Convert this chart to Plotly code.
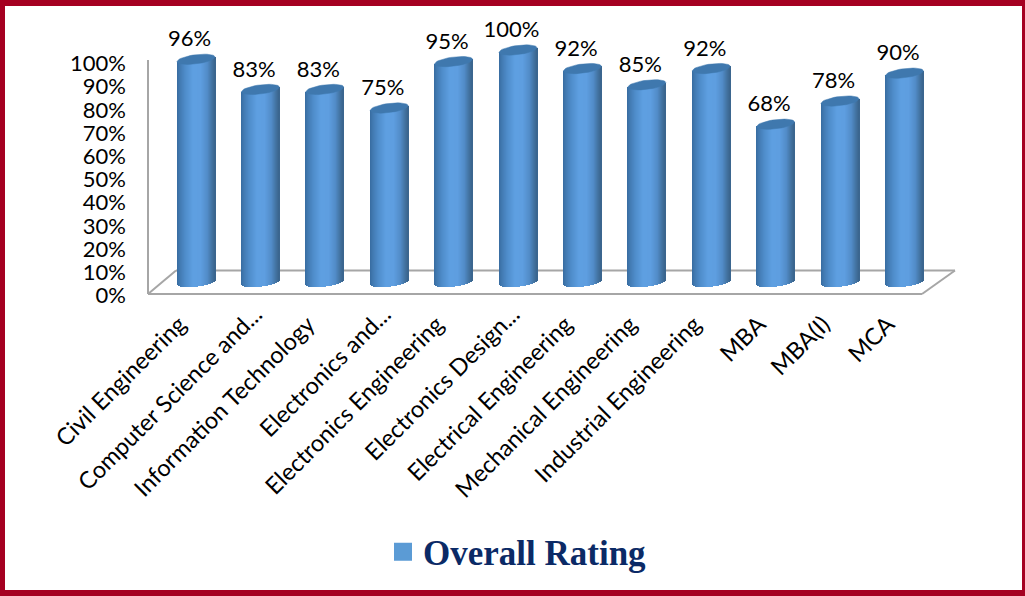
import numpy as np
import plotly.graph_objects as go

categories = ["Civil Engineering", "Computer Science and...", "Information Technology",
              "Electronics and...", "Electronics Engineering", "Electronics Design...",
              "Electrical Engineering", "Mechanical Engineering", "Industrial Engineering",
              "MBA", "MBA(I)", "MCA"]
rating = [96, 83, 83, 75, 95, 100, 92, 85, 92, 68, 78, 90]
value_ticks = list(range(0, 101, 10))
value_tick_labels = [f"{v}%" for v in value_ticks]

W, H = 1025, 596
X0, DX = 196.0, 64.4        # pixel of first category, pixels per category
PX_PER_PCT = 2.32
AXIS_ZERO, BAR_ZERO = 295.5, 282.0
HALF_W, RY, TILT = 19.0, 4.6, 0.12
FONT = "Lato"
FS = 22
FS_X = 23.5
LABEL_SHIFT = 0.26
TRUNC_SHIFT = 0.08

idx = list(range(len(categories)))
vals = np.array(rating, dtype=float)
full_idx = [i for i in idx if not categories[i].endswith("...")]
trunc_idx = [i for i in idx if categories[i].endswith("...")]


def hexrgb(t):
    stops = [-1, -0.85, -0.55, -0.15, 0.25, 0.6, 0.85, 1]
    r = [56, 66, 80, 95, 94, 82, 66, 58]
    g = [108, 122, 142, 160, 158, 140, 114, 100]
    b = [160, 178, 204, 226, 224, 200, 160, 140]
    return "rgb(%d,%d,%d)" % (np.interp(t, stops, r), np.interp(t, stops, g), np.interp(t, stops, b))


fig = go.Figure()

# invisible traces so the left value axis and the second label axis are drawn
fig.add_trace(go.Scatter(x=idx, y=rating, mode="markers", marker=dict(opacity=0),
                         xaxis="x", yaxis="y", showlegend=False, hoverinfo="skip"))
fig.add_trace(go.Scatter(x=idx, y=rating, mode="markers", marker=dict(opacity=0),
                         xaxis="x2", yaxis="y", showlegend=False, hoverinfo="skip"))

# cylinder bodies built from narrow vertical strips of the same values
N = 38
sw = 2 * HALF_W / N
for k in range(N):
    left = -HALF_W + k * sw
    mid = left + sw / 2
    t = mid / HALF_W
    front = RY * np.sqrt(max(0, 1 - t * t))
    base = -(front - TILT * mid) / PX_PER_PCT
    top = vals + (TILT * mid) / PX_PER_PCT
    fig.add_trace(go.Bar(
        x=idx, y=top - base, base=[base] * len(idx),
        offset=left / DX, width=(sw + 0.6) / DX,
        marker=dict(color=hexrgb(t), line=dict(width=0)),
        xaxis="x", yaxis="y2", showlegend=False, hoverinfo="skip"))

# cylinder caps, tilted ellipses sitting on each value
theta = np.linspace(0, 2 * np.pi, 41)
cap_x, cap_y = [], []
for i, v in zip(idx, rating):
    ex = HALF_W * np.cos(theta)
    ey = RY * np.sin(theta) + TILT * ex
    cap_x += list(i + ex / DX) + [None]
    cap_y += list(v + ey / PX_PER_PCT) + [None]
fig.add_trace(go.Scatter(
    x=cap_x, y=cap_y, mode="lines", fill="toself", fillcolor="#3f78ae",
    line=dict(width=0.5, color="#3f78ae"), xaxis="x", yaxis="y2",
    showlegend=False, hoverinfo="skip"))

# data labels
fig.add_trace(go.Scatter(
    x=[i - 0.1 for i in idx], y=[v + 7.9 for v in rating],
    text=[f"{v}%" for v in rating], mode="text", textposition="middle center",
    textfont=dict(family=FONT, size=FS, color="#000000"),
    xaxis="x", yaxis="y2", showlegend=False, hoverinfo="skip"))

# legend entry
fig.add_trace(go.Scatter(
    x=[None], y=[None], mode="markers", name="Overall Rating",
    marker=dict(symbol="square", size=16, color="#5B9BD5", line=dict(width=2, color="#5B9BD5")),
    xaxis="x", yaxis="y2", showlegend=True))


def px(x):
    return x / W


def py(y):
    return 1 - y / H


grey = dict(color="#A6A6A6", width=2)
shapes = [
    dict(type="line", xref="paper", yref="paper", x0=px(148), x1=px(148), y0=py(60), y1=py(294), line=grey, layer="below"),
    dict(type="line", xref="paper", yref="paper", x0=px(148), x1=px(922), y0=py(294), y1=py(294), line=grey, layer="below"),
    dict(type="line", xref="paper", yref="paper", x0=px(922), x1=px(955), y0=py(294), y1=py(270.5), line=grey, layer="below"),
    dict(type="line", xref="paper", yref="paper", x0=px(176), x1=px(955), y0=py(270.5), y1=py(270.5), line=grey, layer="below"),
    dict(type="line", xref="paper", yref="paper", x0=px(148), x1=px(176), y0=py(294), y1=py(270.5), line=grey, layer="below"),
]
crimson = "#A50021"
for x0, x1, y0, y1 in [(0, W, 0, 6), (0, W, 590, H), (0, 5, 0, H), (1022, W, 0, H)]:
    shapes.append(dict(type="rect", xref="paper", yref="paper", x0=px(x0), x1=px(x1),
                       y0=py(y1), y1=py(y0), fillcolor=crimson, line=dict(width=0), layer="above"))

x_range = [(0 - X0) / DX, (W - X0) / DX]
fig.update_layout(
    width=W, height=H, margin=dict(l=0, r=0, t=0, b=0),
    paper_bgcolor="white", plot_bgcolor="rgba(0,0,0,0)",
    barmode="overlay", bargap=0, shapes=shapes, hovermode=False,
    xaxis=dict(range=x_range, domain=[0, 1],
               tickmode="array", tickvals=[i - LABEL_SHIFT for i in full_idx],
               ticktext=[categories[i] for i in full_idx], tickangle=-45,
               showgrid=False, zeroline=False, showline=False, ticks="",
               tickfont=dict(family=FONT, size=FS_X, color="#000000"),
               anchor="free", position=py(305), automargin=False),
    xaxis2=dict(range=x_range, domain=[0, 1], overlaying="x",
                tickmode="array", tickvals=[i - TRUNC_SHIFT for i in trunc_idx],
                ticktext=[categories[i] for i in trunc_idx], tickangle=-45,
                showgrid=False, zeroline=False, showline=False, ticks="",
                tickfont=dict(family=FONT, size=FS_X, color="#000000"),
                anchor="free", position=py(295), side="bottom", automargin=False),
    yaxis=dict(range=[(AXIS_ZERO - H) / PX_PER_PCT, AXIS_ZERO / PX_PER_PCT], domain=[0, 1],
               tickmode="array", tickvals=value_ticks, ticktext=value_tick_labels,
               showgrid=False, zeroline=False, showline=False, ticks="",
               tickfont=dict(family=FONT, size=FS, color="#000000"),
               anchor="free", position=px(126), automargin=False),
    yaxis2=dict(range=[(BAR_ZERO - H) / PX_PER_PCT, BAR_ZERO / PX_PER_PCT], domain=[0, 1],
                overlaying="y", visible=False),
    showlegend=True,
    legend=dict(x=px(383), y=py(552), xanchor="left", yanchor="middle",
                bgcolor="rgba(0,0,0,0)", itemwidth=30,
                font=dict(family="Liberation Serif", size=35, color="#0B2A66", weight="bold")),
)
fig.write_html("out.html", config={"displayModeBar": False}, post_script="document.body.style.margin='0';")
